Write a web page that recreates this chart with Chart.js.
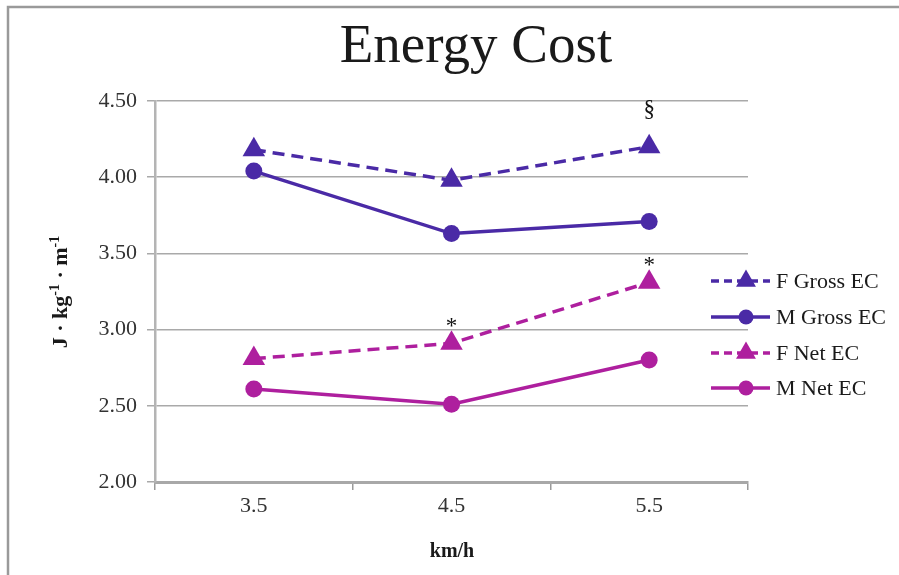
<!DOCTYPE html>
<html>
<head>
<meta charset="utf-8">
<script src="https://cdn.jsdelivr.net/npm/chart.js@4.4.1/dist/chart.umd.min.js"></script>
<style>
  html, body { margin: 0; padding: 0; background: #fff; }
  #wrap { width: 899px; height: 575px; position: relative; }
</style>
</head>
<body>
<div id="wrap"><canvas id="c" width="899" height="575"></canvas></div>
<script>
// Walking speed categories and energy cost per series
const speeds = ['3.5', '4.5', '5.5'];
const fGrossEC = [4.18, 3.98, 4.20];
const mGrossEC = [4.04, 3.63, 3.71];
const fNetEC = [2.81, 2.91, 3.31];
const mNetEC = [2.61, 2.51, 2.80];
const seriesNames = ['F Gross EC', 'M Gross EC', 'F Net EC', 'M Net EC'];
const yTickValues = [2.0, 2.5, 3.0, 3.5, 4.0, 4.5];

// Significance markers placed above individual points: [series index, point index, symbol]
const sigMarks = [
  [0, 2, '§'],
  [2, 1, '*'],
  [2, 2, '*']
];

const GROSS = '#4A2AA6';
const NET = '#AE1F9E';
const SERIF = '"Liberation Serif", "Times New Roman", serif';

const styles = [
  { color: GROSS, dash: [12, 7], shape: 'triangle' },
  { color: GROSS, dash: [], shape: 'circle' },
  { color: NET, dash: [12, 7], shape: 'triangle' },
  { color: NET, dash: [], shape: 'circle' }
];
const values = [fGrossEC, mGrossEC, fNetEC, mNetEC];

const datasets = seriesNames.map((name, i) => ({
  label: name,
  data: values[i],
  borderColor: styles[i].color,
  backgroundColor: styles[i].color,
  borderWidth: 3.5,
  borderDash: styles[i].dash,
  pointStyle: styles[i].shape,
  pointRadius: styles[i].shape === 'triangle' ? 13 : 8.5,
  pointBorderWidth: 0,
  tension: 0
}));

function drawText(ctx, parts, x, y, size, bold) {
  // parts: [text, isSuperscript]
  let total = 0;
  const widths = parts.map(([t, sup]) => {
    ctx.font = (bold ? 'bold ' : '') + (sup ? Math.round(size * 0.62) : size) + 'px ' + SERIF;
    const w = ctx.measureText(t).width;
    total += w;
    return w;
  });
  let cx = x - total / 2;
  parts.forEach(([t, sup], i) => {
    ctx.font = (bold ? 'bold ' : '') + (sup ? Math.round(size * 0.62) : size) + 'px ' + SERIF;
    ctx.fillText(t, cx, sup ? y - size * 0.38 : y);
    cx += widths[i];
  });
}

const decorations = {
  id: 'decorations',
  beforeDraw(chart) {
    const ctx = chart.ctx;
    ctx.save();
    ctx.fillStyle = '#fff';
    ctx.fillRect(0, 0, chart.width, chart.height);
    // frame lines
    ctx.strokeStyle = '#9A9A9A';
    ctx.lineWidth = 2.5;
    ctx.beginPath();
    ctx.moveTo(8, chart.height);
    ctx.lineTo(8, 7);
    ctx.lineTo(chart.width, 7);
    ctx.stroke();
    ctx.restore();
  },
  afterDraw(chart) {
    const ctx = chart.ctx;
    ctx.save();
    ctx.fillStyle = '#1a1a1a';
    ctx.textAlign = 'left';
    ctx.textBaseline = 'alphabetic';
    // title
    ctx.font = '55px ' + SERIF;
    ctx.textAlign = 'center';
    ctx.fillText('Energy Cost', 476, 62);

    // axis titles
    ctx.textAlign = 'left';
    ctx.save();
    ctx.translate(67, 292);
    ctx.rotate(-Math.PI / 2);
    drawText(ctx, [['J · kg', false], ['-1', true], [' · m', false], ['-1', true]], 0, 0, 22, true);
    ctx.restore();
    drawText(ctx, [['km/h', false]], 452, 557, 20, true);

    // significance marks
    ctx.fillStyle = '#111';
    ctx.textAlign = 'center';
    ctx.textBaseline = 'middle';
    ctx.font = '23px ' + SERIF;
    sigMarks.forEach(([ds, idx, sym]) => {
      const pt = chart.getDatasetMeta(ds).data[idx];
      const off = sym === '§' ? 37 : 16;
      ctx.fillText(sym, pt.x, pt.y - off);
    });

    // legend
    const rows = [281, 317, 353, 388];
    ctx.textAlign = 'left';
    ctx.textBaseline = 'middle';
    seriesNames.forEach((name, i) => {
      const y = rows[i];
      const st = styles[i];
      ctx.strokeStyle = st.color;
      ctx.fillStyle = st.color;
      ctx.lineWidth = 3.5;
      ctx.setLineDash(st.dash.length ? [8, 5] : []);
      ctx.beginPath();
      ctx.moveTo(711, y);
      ctx.lineTo(770, y);
      ctx.stroke();
      ctx.setLineDash([]);
      Chart.helpers.drawPoint(ctx, {
        pointStyle: st.shape,
        radius: st.shape === 'triangle' ? 11.5 : 7.5,
        borderWidth: 0
      }, 746, y);
      ctx.fillStyle = '#1a1a1a';
      ctx.font = '22px ' + SERIF;
      ctx.fillText(name, 776, y + 1);
    });
    ctx.restore();
  }
};

new Chart(document.getElementById('c'), {
  type: 'line',
  data: { labels: speeds, datasets },
  options: {
    responsive: false,
    animation: false,
    devicePixelRatio: 1,
    layout: { padding: { top: 101, right: 151, bottom: 0, left: 0 } },
    plugins: {
      legend: { display: false },
      title: { display: false },
      tooltip: { enabled: false }
    },
    scales: {
      x: {
        type: 'category',
        offset: true,
        afterFit: s => { s.height = 93; },
        grid: {
          offset: true,
          drawOnChartArea: false,
          drawTicks: true,
          tickLength: 8,
          color: '#9A9A9A',
          lineWidth: 1.5
        },
        border: { display: true, color: '#A8A8A8', width: 3 },
        ticks: {
          color: '#333',
          font: { family: SERIF, size: 22 },
          padding: 3
        }
      },
      y: {
        min: 2,
        max: 4.5,
        afterFit: s => { s.width = 155; },
        afterBuildTicks: s => { s.ticks = yTickValues.map(v => ({ value: v })); },
        grid: {
          color: '#A9A9A9',
          lineWidth: 1.5,
          tickLength: 8,
          drawTicks: true
        },
        border: { display: true, color: '#B4B4B4', width: 2.5 },
        ticks: {
          color: '#333',
          padding: 10,
          font: { family: SERIF, size: 22 },
          callback: v => Number(v).toFixed(2)
        }
      }
    }
  },
  plugins: [decorations]
});
</script>
</body>
</html>
